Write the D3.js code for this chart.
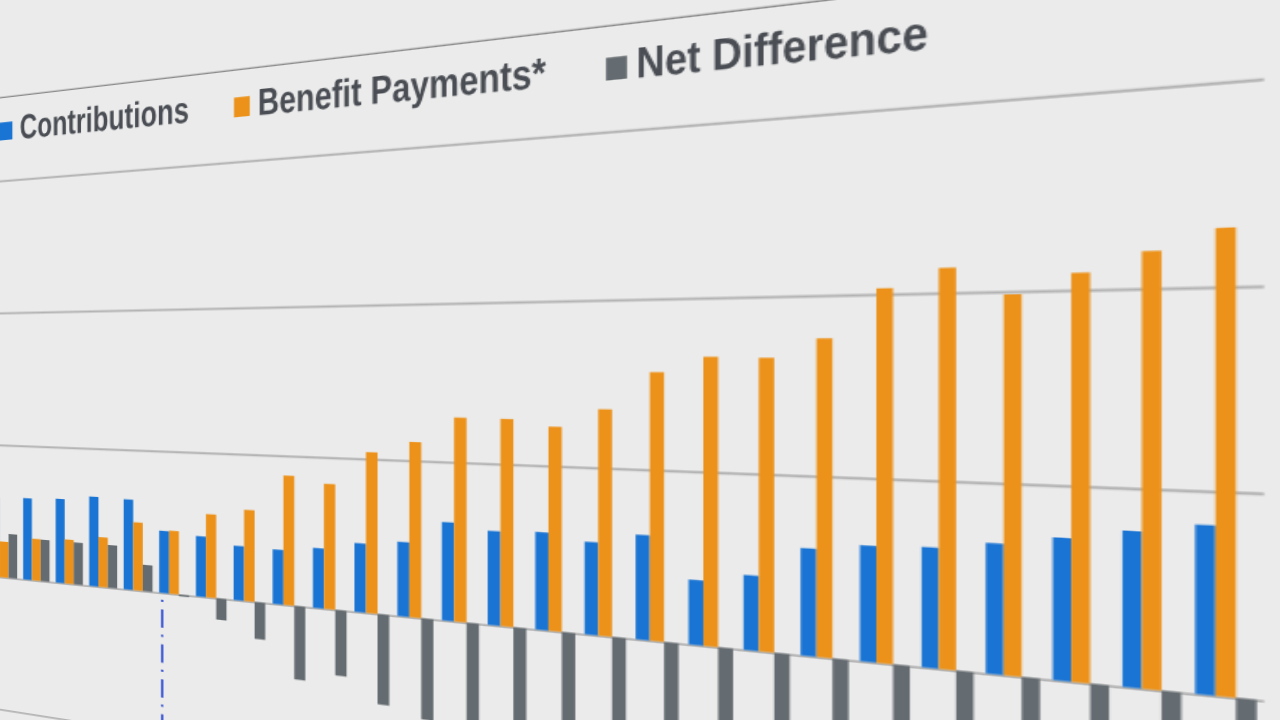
<!DOCTYPE html>
<html>
<head>
  <meta charset="utf-8">
  <script src="https://d3js.org/d3.v7.min.js"></script>
  <style>
    html, body {
      margin: 0;
      padding: 0;
      background: #ebebeb;
      overflow: hidden;
    }
    /* the flat chart lives in #sheet, which is then tilted with a matrix3d */
    #sheet {
      position: absolute;
      left: 0;
      top: 0;
      transform-origin: 0 0;
    }
    #sheet svg {
      display: block;
      overflow: visible;
    }
    .grid path { display: none; }
    .grid line {
      stroke: #b3b3b3;
      stroke-width: 1.9px;
    }
    .legend text {
      font-family: "Liberation Sans", Arial, sans-serif;
      font-weight: bold;
      font-size: 34px;
      fill: #4a4e54;
    }
  </style>
</head>
<body>
  <div id="sheet"></div>
  <script>
    // years on the category axis (labels fall below the photo's edge)
    var years = ["2008", "2009", "2010", "2011", "2012", "2013", "2014", "2015", "2016",
                 "2017", "2018", "2019", "2020", "2021", "2022", "2023", "2024", "2025",
                 "2026", "2027", "2028", "2029", "2030", "2031", "2032", "2033"];

    var seriesNames = ["Contributions", "Benefit Payments*", "Net Difference"];

    var contributions = [600, 609, 619, 650, 645, 438, 419, 372, 367, 397, 449, 477, 621,
                         584, 595, 555, 616, 375, 425, 598, 633, 644, 685, 733, 786, 834];

    var benefitPayments = [270, 310, 324, 360, 485, 443, 576, 622, 868, 826, 1045, 1120, 1282,
                           1280, 1239, 1350, 1572, 1662, 1656, 1763, 2032, 2133, 1985, 2088, 2187, 2289];

    var netDifference = [331, 308, 307, 308, 187, -12, -147, -250, -491, -431, -584, -643, -661,
                         -696, -644, -795, -956, -1287, -1231, -1165, -1399, -1489, -1300, -1355, -1401, -1455];

    var yTicks = [-1000, 0, 1000, 2000, 3000];

    var seriesData = [contributions, benefitPayments, netDifference];
    var colors = ["#1a74d3", "#ec921a", "#656c71"];

    var width = 1400;
    var height = 800;
    var plotLeft = -11.4;
    var plotRight = 803.7;

    var sheet = d3.select("#sheet");
    var svg = sheet.append("svg")
        .attr("width", width)
        .attr("height", height);

    var x0 = d3.scaleBand()
        .domain(years)
        .range([plotLeft, plotRight])
        .paddingInner(0.187)
        .paddingOuter(0.0935);
    var x1 = d3.scaleBand()
        .domain(seriesNames)
        .range([0, x0.bandwidth()]);
    var y = d3.scaleLinear()
        .domain([-1000, 3000])
        .range([708.4, 181.2]);
    var color = d3.scaleOrdinal()
        .domain(seriesNames)
        .range(colors);

    // thin rule above the legend
    svg.append("line")
        .attr("x1", -40)
        .attr("x2", width)
        .attr("y1", 98.3)
        .attr("y2", 98.3)
        .attr("stroke", "#6a6a6a")
        .attr("stroke-width", 1.1);

    // gridlines (the value labels sit outside the photographed area)
    var yAxis = d3.axisLeft(y)
        .tickValues(yTicks)
        .tickSize(-(plotRight - plotLeft))
        .tickFormat("");
    svg.append("g")
        .attr("class", "grid")
        .attr("transform", "translate(" + plotLeft + ",0)")
        .call(yAxis);

    // dash-dot marker below the axis
    var splitX = x0(years[5]) + x1.bandwidth() * 0.3;
    svg.append("line")
        .attr("x1", splitX)
        .attr("x2", splitX)
        .attr("y1", y(0))
        .attr("y2", y(-1000) + 60)
        .attr("stroke", "#3350cf")
        .attr("stroke-width", 2)
        .attr("stroke-dasharray", "17,6.5,1.8,7.2")
        .attr("stroke-dashoffset", 17);

    // bars
    var groups = svg.append("g")
        .selectAll("g")
        .data(years)
        .join("g")
        .attr("transform", function(d) { return "translate(" + x0(d) + ",0)"; });

    groups.selectAll("rect")
        .data(function(d, i) {
          return seriesNames.map(function(s, j) { return { s: s, v: seriesData[j][i] }; });
        })
        .join("rect")
        .attr("x", function(d) { return x1(d.s); })
        .attr("width", x1.bandwidth())
        .attr("y", function(d) { return y(Math.max(0, d.v)); })
        .attr("height", function(d) { return Math.abs(y(d.v) - y(0)); })
        .attr("fill", function(d) { return color(d.s); });

    // legend
    var legendBox = [-0.5, 211.3, 475.1];
    var legendText = [19.5, 230.5, 493.5];
    var legend = svg.append("g").attr("class", "legend");
    seriesNames.forEach(function(s, i) {
      legend.append("rect")
          .attr("x", legendBox[i])
          .attr("y", 123.2)
          .attr("width", 12.8)
          .attr("height", 17.8)
          .attr("fill", color(s));
      legend.append("text")
          .attr("transform", "translate(" + legendText[i] + ",141.3) scale(0.693,1)")
          .text(s);
    });

    // camera tilt: planar homography as a CSS matrix3d
    var p = -0.0004506, q = 0.998, yH = 360;
    sheet.style("transform", "matrix3d(" + [
      1, yH * p, 0, p,
      0, 1, 0, 0,
      0, 0, 1, 0,
      0, yH * (q - 1), 0, q
    ].join(",") + ")");
  </script>
</body>
</html>
